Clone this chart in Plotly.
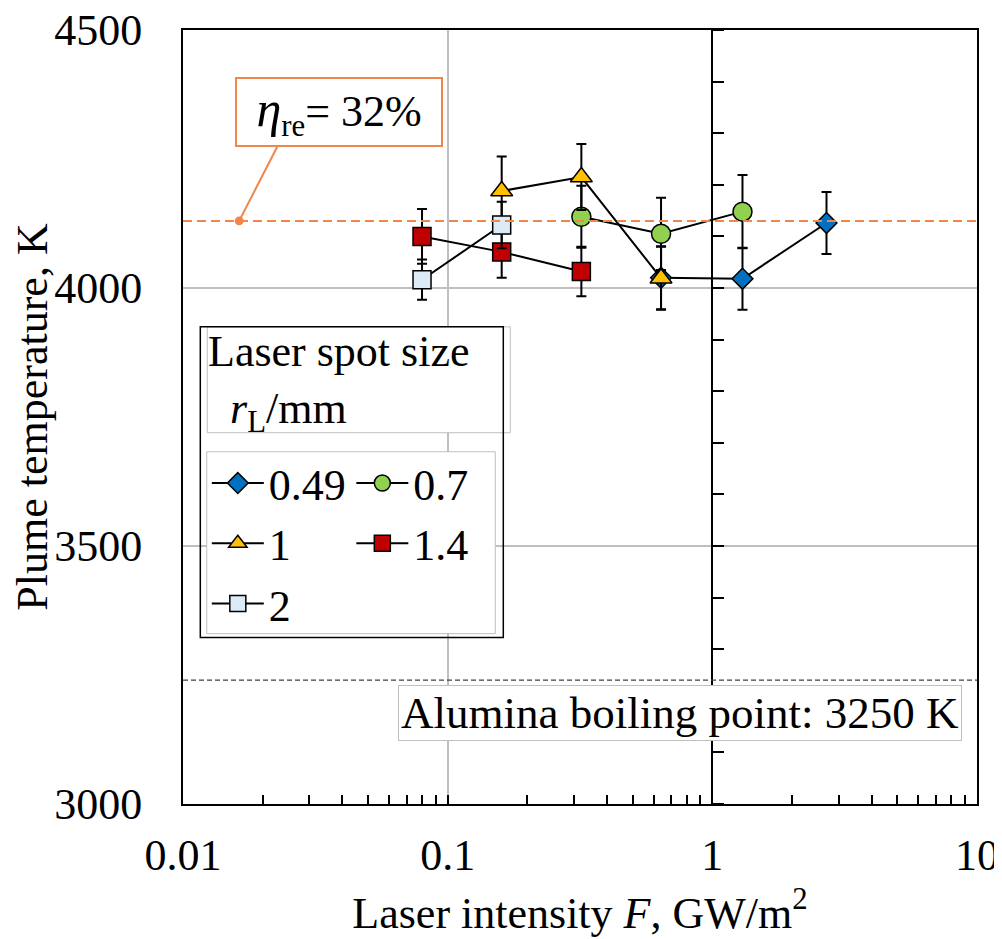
import math
import plotly.graph_objects as go

# ---------------- data ----------------
SERIES_NAMES = ["0.49", "0.7", "1", "1.4", "2"]

F_049 = [0.64, 1.3, 2.7]
T_049 = [4020, 4018, 4126]
E_049 = [61, 60, 60]

F_07 = [0.32, 0.64, 1.3]
T_07 = [4138, 4105, 4148]
E_07 = [60, 70, 71]

F_1 = [0.16, 0.32, 0.64]
T_1 = [4188, 4215, 4019]
E_1 = [67, 64, 61]

F_14 = [0.08, 0.16, 0.32]
T_14 = [4100, 4070, 4032]
E_14 = [53, 50, 48]

F_2 = [0.08, 0.16]
T_2 = [4016, 4122]
E_2 = [39, 45]

ETA_LINE_K = 4130          # eta_re = 32 % reference line
BOILING_LINE_K = 3240      # alumina boiling point line (as drawn)
ETA_ARROW_F = 0.0163       # where the eta callout points

X_TICKS = [0.01, 0.1, 1, 10]
X_TICK_TEXT = ["0.01", "0.1", "1", "10"]
Y_RANGE = [3000, 4500]

FONT = "Liberation Serif"
FS = 44

styles = {
    "0.49": dict(symbol="diamond", color="#0070C0", size=16, legend="legend"),
    "0.7": dict(symbol="circle", color="#92D050", size=19, legend="legend2"),
    "1": dict(symbol="triangle-up", color="#FFC000", size=19, legend="legend"),
    "1.4": dict(symbol="square", color="#C00000", size=18, legend="legend2"),
    "2": dict(symbol="square", color="#DDEBF7", size=18, legend="legend"),
}
series = {
    "0.49": (F_049, T_049, E_049),
    "0.7": (F_07, T_07, E_07),
    "1": (F_1, T_1, E_1),
    "1.4": (F_14, T_14, E_14),
    "2": (F_2, T_2, E_2),
}

fig = go.Figure()
for name in SERIES_NAMES:
    f, t, e = series[name]
    st = styles[name]
    fig.add_trace(go.Scatter(
        x=f, y=t, name=name, mode="lines+markers",
        line=dict(color="black", width=2),
        marker=dict(symbol=st["symbol"], color=st["color"], size=st["size"],
                    line=dict(color="black", width=1.5)),
        error_y=dict(type="data", array=e, visible=True, color="black",
                     thickness=2, width=5),
        legend=st["legend"],
    ))

# vertical axis line at F = 1 with 100 K ticks (free overlaying axis)
fig.add_trace(go.Scatter(x=[1, 1], y=Y_RANGE, yaxis="y2", mode="lines",
                         line=dict(width=0), showlegend=False, hoverinfo="skip"))

# reference lines
fig.add_hline(y=ETA_LINE_K, line=dict(color="#F0864A", width=2, dash="9px,5px"))
fig.add_hline(y=BOILING_LINE_K, line=dict(color="#404040", width=1.3, dash="5px,3px"))

# legend frame boxes
fig.add_shape(type="rect", xref="paper", yref="paper", x0=0.0306, x1=0.4122,
              y0=0.4797, y1=0.6165, line=dict(color="#BFBFBF", width=1),
              fillcolor="white", layer="above")
fig.add_shape(type="rect", xref="paper", yref="paper", x0=0.0299, x1=0.3933,
              y0=0.2201, y1=0.4551, line=dict(color="#BFBFBF", width=1),
              fillcolor="white", layer="above")
fig.add_shape(type="rect", xref="paper", yref="paper", x0=0.0218, x1=0.4034,
              y0=0.215, y1=0.6165, line=dict(color="black", width=1.5),
              fillcolor="rgba(0,0,0,0)", layer="above")

# legend title
fig.add_annotation(xref="paper", yref="paper", x=0.029, y=0.619,
                   xanchor="left", yanchor="top", align="left", showarrow=False,
                   text="Laser spot size<br>\u00a0\u00a0<i>r</i><sub>L</sub>/mm",
                   font=dict(family=FONT, size=FS, color="black"))

# eta callout
fig.add_annotation(xref="paper", yref="paper", x=0.197, y=0.894,
                   xanchor="center", yanchor="middle",
                   showarrow=False,
                   text="<i><span style='font-size:50px'>η</span></i><sub>re</sub>= 32%",
                   font=dict(family=FONT, size=FS, color="black"),
                   bordercolor="#F0864A", borderwidth=2, borderpad=3,
                   bgcolor="white", width=198, height=60)
fig.add_annotation(x=math.log10(ETA_ARROW_F), y=ETA_LINE_K, xref="x", yref="y",
                   text="", showarrow=True, arrowhead=6, arrowsize=1.1,
                   arrowwidth=2, arrowcolor="#F0864A", ax=39, ay=-76, standoff=0)

# boiling point label
fig.add_annotation(xref="paper", yref="paper", x=0.6257, y=0.1175,
                   xanchor="center", yanchor="middle",
                   showarrow=False, text="Alumina boiling point: 3250 K",
                   font=dict(family=FONT, size=45, color="black"),
                   bordercolor="#BFBFBF", borderwidth=1, borderpad=2,
                   bgcolor="white")

legend_common = dict(bgcolor="rgba(0,0,0,0)", borderwidth=0,
                     font=dict(family=FONT, size=FS, color="black"),
                     xanchor="left", yanchor="top", tracegroupgap=0,
                     itemwidth=52)

# The page body adds an 8 px offset; figure size and margins compensate so that
# the plot area sits where it does in the reference.
fig.update_layout(
    width=994, height=931,
    margin=dict(l=175, r=25, t=22, b=135),
    paper_bgcolor="white", plot_bgcolor="white",
    font=dict(family=FONT, size=FS, color="black"),
    showlegend=True,
    legend=dict(x=0.03, y=0.46, **legend_common),
    legend2=dict(x=0.212, y=0.46, **legend_common),
    xaxis=dict(
        type="log", range=[-2, 1], automargin=False,
        tickmode="array", tickvals=X_TICKS, ticktext=X_TICK_TEXT,
        ticks="inside", ticklen=9, tickwidth=1.5, tickcolor="black",
        minor=dict(ticks="inside", ticklen=9, tickwidth=1.5, tickcolor="black",
                   dtick="D1", showgrid=False),
        showgrid=True, gridcolor="#BFBFBF", gridwidth=2,
        showline=True, linecolor="black", linewidth=2, mirror=True,
        ticklabelstandoff=11, ticklabeloverflow="allow",
        title=dict(text="Laser intensity <i>F</i>, GW/m<sup>2</sup>",
                   font=dict(family=FONT, size=FS), standoff=18),
        zeroline=False,
    ),
    yaxis=dict(
        range=Y_RANGE, dtick=500, tick0=3000, automargin=False,
        ticks="", showgrid=True, gridcolor="#BFBFBF", gridwidth=2,
        showline=True, linecolor="black", linewidth=2, mirror=True,
        ticklabelstandoff=30, ticklabeloverflow="allow",
        title=dict(text="Plume temperature, K", font=dict(family=FONT, size=FS),
                   standoff=6),
        zeroline=False,
    ),
    yaxis2=dict(
        overlaying="y", anchor="free", position=2 / 3, side="right",
        range=Y_RANGE, dtick=100, tick0=3000, automargin=False,
        ticks="outside", ticklen=11, tickwidth=2, tickcolor="black",
        showticklabels=False, showgrid=False, zeroline=False,
        showline=True, linecolor="black", linewidth=2,
    ),
)

fig.write_html("out.html")
